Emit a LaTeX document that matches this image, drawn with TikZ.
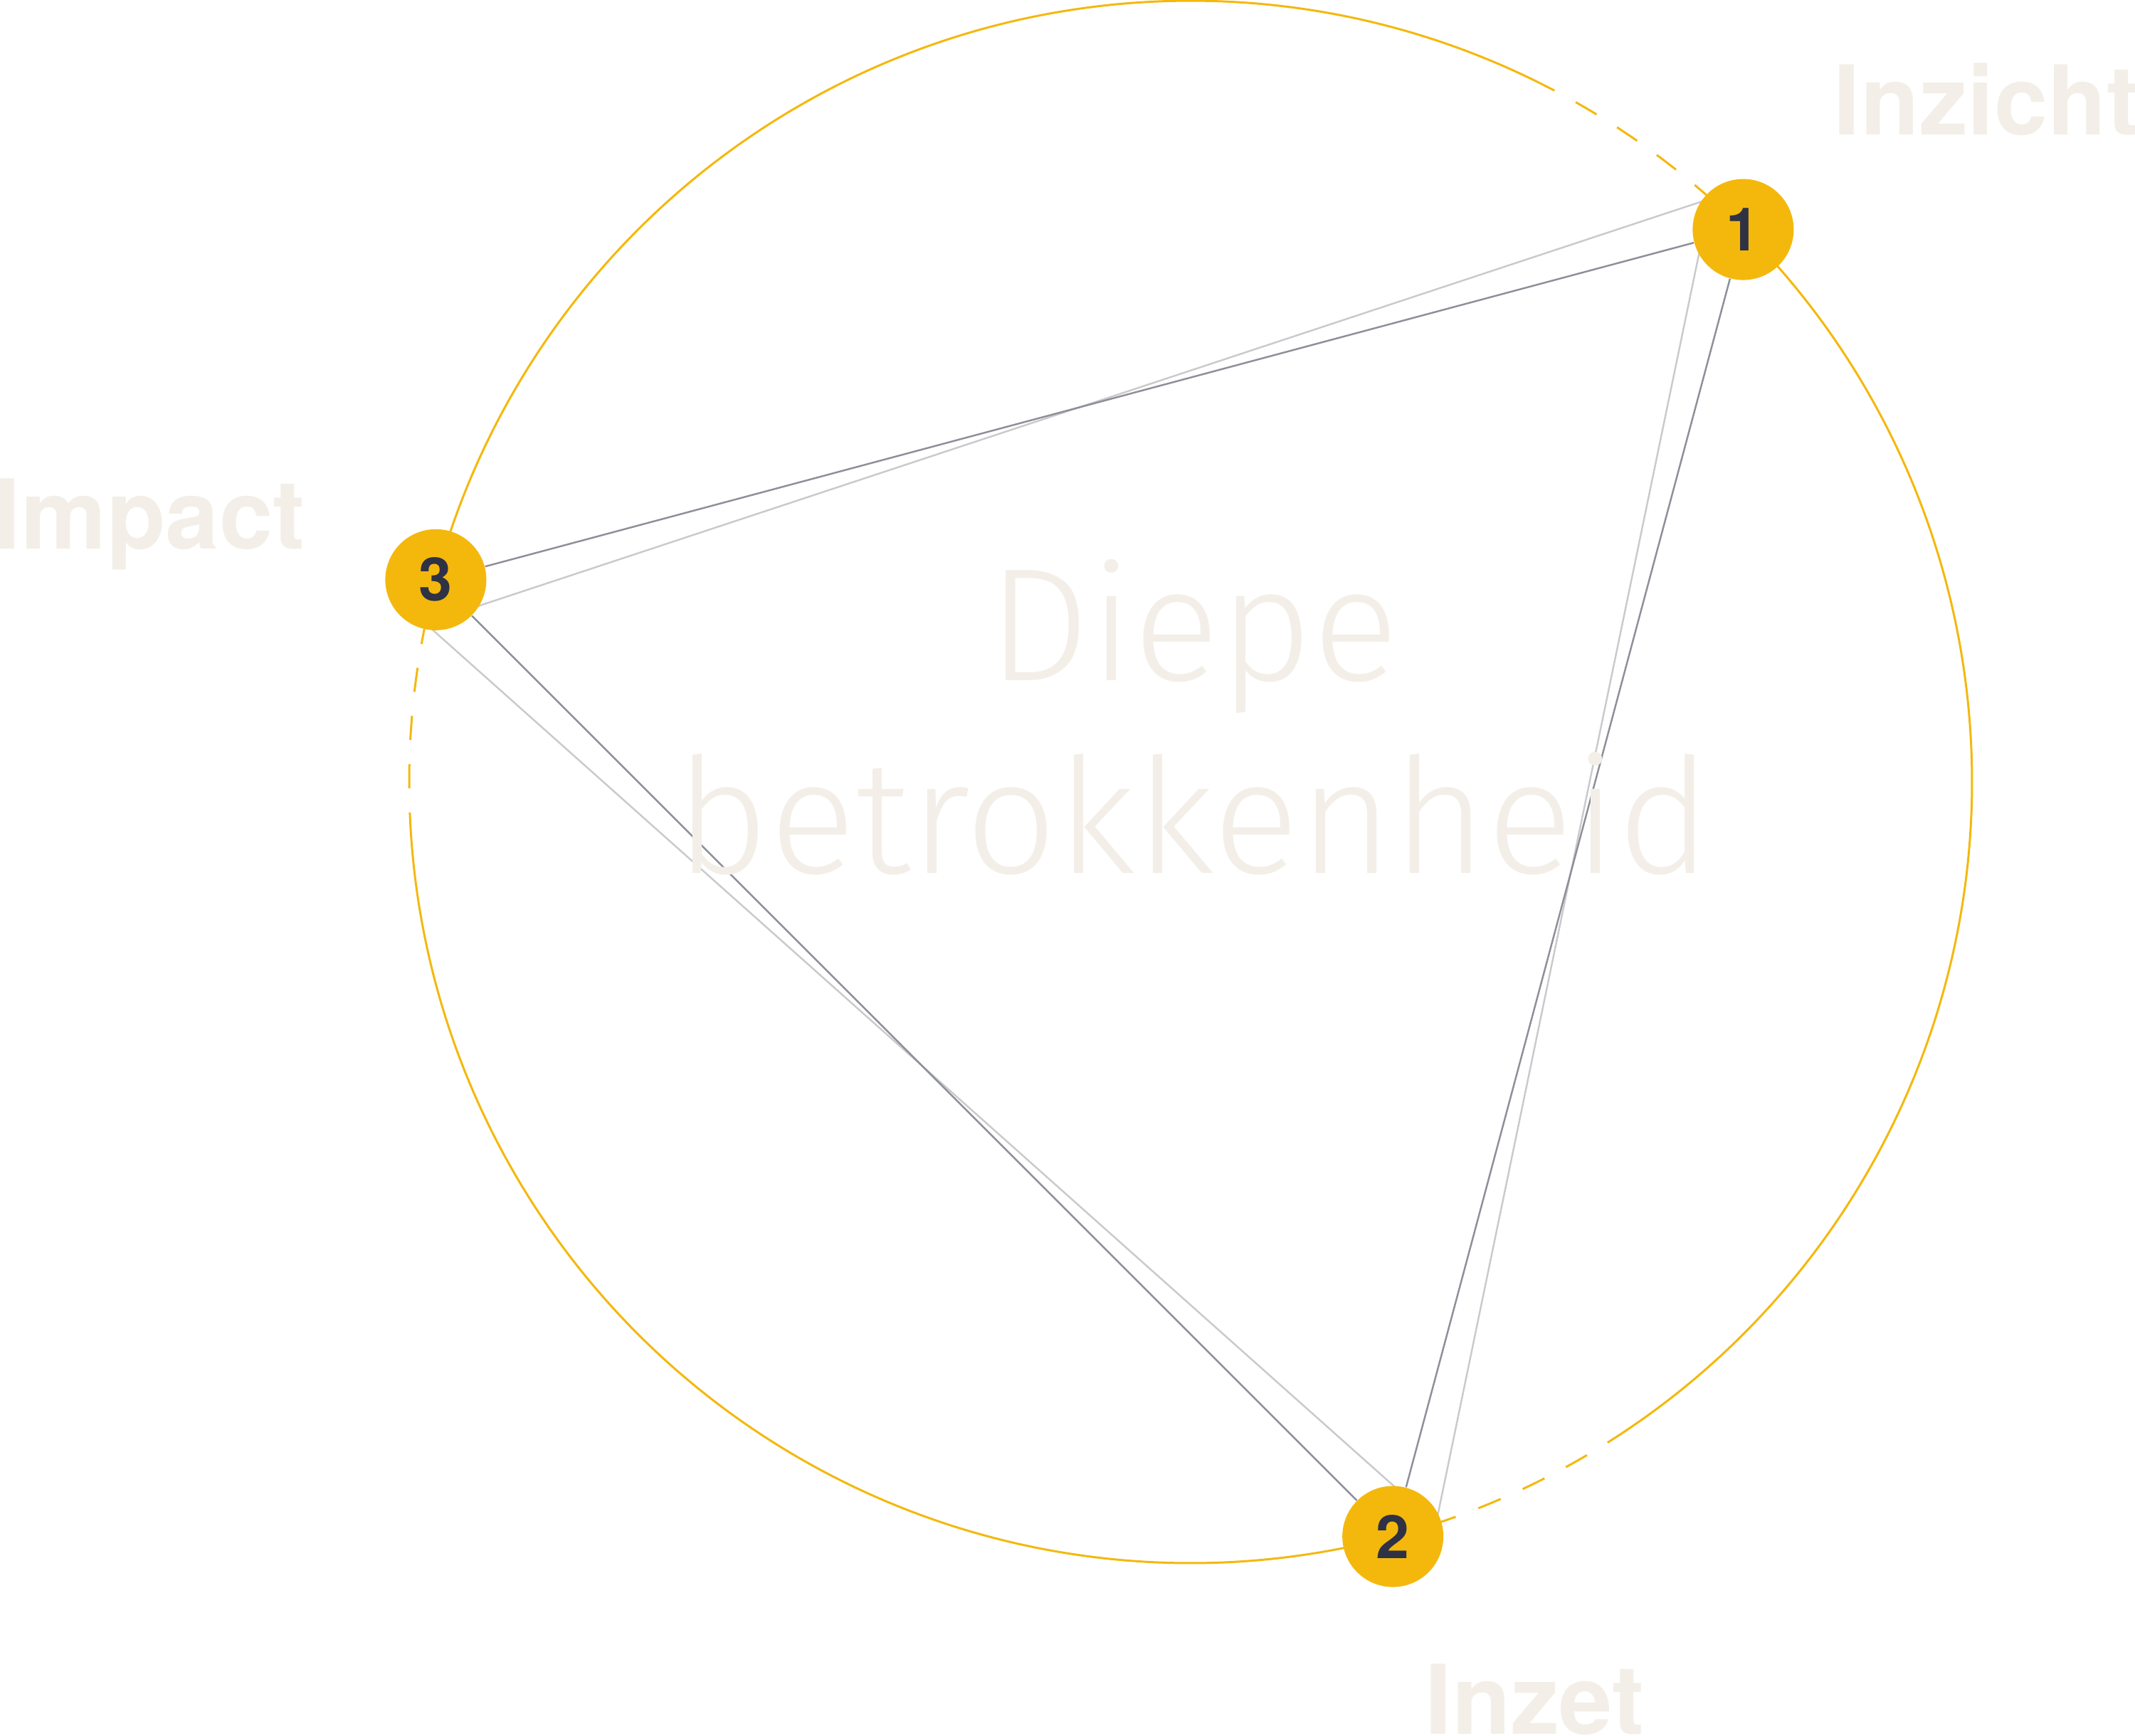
\documentclass[tikz,border=0pt]{standalone}
\usepackage{fontspec}
\setmainfont{TeX Gyre Heros}
\newfontfamily\thinfont{Fira Sans Light}
\usepackage{xcolor}

\definecolor{gold}{HTML}{F4B80D}
\definecolor{navy}{HTML}{2E3244}
\definecolor{sand}{HTML}{F3EFE8}
\definecolor{slate}{HTML}{8D8F99}
\definecolor{mist}{HTML}{CACACC}

\begin{document}
\begin{tikzpicture}[
		dot/.style={circle, fill=gold, minimum size=1.42cm, inner sep=0pt, text=navy, font=\fontsize{24}{24}\selectfont\bfseries},
		lbl/.style={inner sep=0pt, text=sand, font=\fontsize{38.5}{40}\selectfont\bfseries},
		title/.style={inner sep=0pt, text=sand, font=\thinfont\fontsize{64.3}{64.3}\selectfont},
		rim/.style={gold, line width=0.85pt},
		dashrim/.style={rim, dash pattern=on 0.34cm off 0.34cm, dash phase=0.34cm}
	]
					\useasboundingbox (-16.73,-13.41) rectangle (13.27,10.99);

					% ring
					\draw[rim] (62.25:10.98) arc[start angle=62.25, end angle=165, radius=10.98];
					\draw[rim] (182.25:10.98) arc[start angle=182.25, end angle=285, radius=10.98];
					\draw[rim] (302.25:10.98) arc[start angle=302.25, end angle=405, radius=10.98];
					\draw[dashrim] (62.25:10.98) arc[start angle=62.25, end angle=45, radius=10.98];
					\draw[dashrim] (182.25:10.98) arc[start angle=182.25, end angle=165, radius=10.98];
					\draw[dashrim] (302.25:10.98) arc[start angle=302.25, end angle=285, radius=10.98];

					% shifted triangle
					\coordinate (1s) at (48.3:10.98);
					\coordinate (2s) at (288.3:10.98);
					\coordinate (3s) at (168.3:10.98);
					\draw[mist, line width=0.7pt] (1s) -- (2s) -- (3s) -- cycle;

					\node[dot] (1) at (45:10.98) {1};
					\node[dot] (2) at (285:10.98) {2};
					\node[dot] (3) at (165:10.98) {3};

					\path[draw=slate, line width=0.7pt]
						(1) edge (2)
						(2) edge (3)
						(3) edge (1)
					;

					\node[title, anchor=base] (diepe) at (0.04,1.42) {Diepe};
					\node[title, anchor=base] (betrokken) at (0.04,-1.29) {betrokkenheid};

					\node[lbl, anchor=base west] (inzicht) at (9.03,9.09) {Inzicht};
					\node[lbl, anchor=base west] (impact) at (-16.82,3.27) {Impact};
					\node[lbl, anchor=base west] (inzet) at (3.29,-13.38) {Inzet};
				\end{tikzpicture}
\end{document}
